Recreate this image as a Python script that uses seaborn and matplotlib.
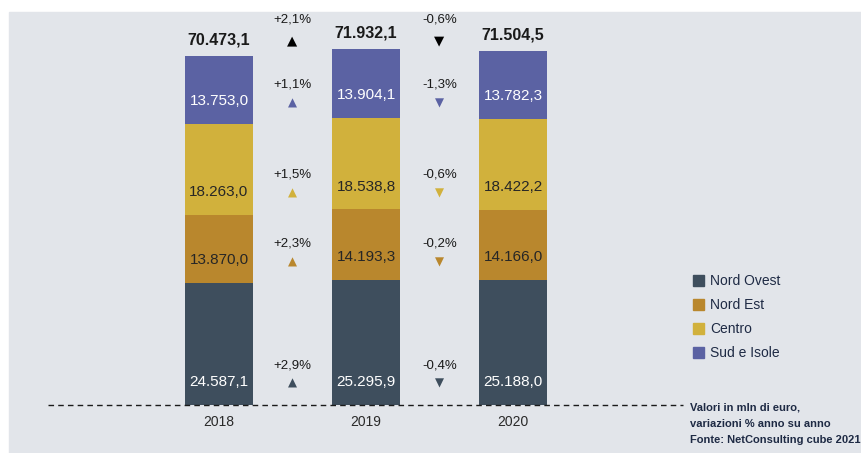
#!/usr/bin/env python3

import numpy as np
import pandas as pd
import matplotlib
matplotlib.use("Agg")
import matplotlib.pyplot as plt
from matplotlib.patches import Rectangle
import seaborn as sns

# ======================================================
# DATA
# ======================================================
YEARS = ["2018", "2019", "2020"]
REGIONS = ["Nord Ovest", "Nord Est", "Centro", "Sud e Isole"]

NORD_OVEST = [24587.1, 25295.9, 25188.0]
NORD_EST = [13870.0, 14193.3, 14166.0]
CENTRO = [18263.0, 18538.8, 18422.2]
SUD_ISOLE = [13753.0, 13904.1, 13782.3]
TOTALS = [70473.1, 71932.1, 71504.5]

# yoy changes between consecutive years
CHG_TOTAL = ["+2,1%", "-0,6%"]
CHG_NORD_OVEST = ["+2,9%", "-0,4%"]
CHG_NORD_EST = ["+2,3%", "-0,2%"]
CHG_CENTRO = ["+1,5%", "-0,6%"]
CHG_SUD_ISOLE = ["+1,1%", "-1,3%"]

COLORS = {
    "Nord Ovest": "#3e4e5d",
    "Nord Est": "#b9872d",
    "Centro": "#d1b13c",
    "Sud e Isole": "#5b62a3",
}
LABEL_COLORS = {
    "Nord Ovest": "white",
    "Nord Est": "#262626",
    "Centro": "#262626",
    "Sud e Isole": "white",
}
BG = "#e2e5ea"
FONT = ["Liberation Sans Narrow", "Liberation Sans", "DejaVu Sans"]
TRI = ["DejaVu Sans"]


def fmt_it(v):
    s = f"{v:,.1f}"
    return s.replace(",", "X").replace(".", ",").replace("X", ".")


def main():
    plt.rcParams["font.family"] = FONT

    values = {
        "Nord Ovest": NORD_OVEST,
        "Nord Est": NORD_EST,
        "Centro": CENTRO,
        "Sud e Isole": SUD_ISOLE,
    }
    changes = {
        "Nord Ovest": CHG_NORD_OVEST,
        "Nord Est": CHG_NORD_EST,
        "Centro": CHG_CENTRO,
        "Sud e Isole": CHG_SUD_ISOLE,
    }

    rows = []
    for r in REGIONS:
        for y, v in zip(YEARS, values[r]):
            rows.append({"Year": y, "Region": r, "Value": v})
    df = pd.DataFrame(rows)
    df["Region"] = pd.Categorical(df["Region"], categories=REGIONS, ordered=True)
    df = df.sort_values(["Year", "Region"])
    df["Top"] = df.groupby("Year")["Value"].cumsum()
    df["Bottom"] = df["Top"] - df["Value"]

    fig = plt.figure(figsize=(8.62, 4.53), dpi=100)
    fig.patch.set_facecolor("white")
    fig.patches.append(Rectangle((9 / 862, 0), 1, (453 - 12) / 453,
                                 transform=fig.transFigure, color=BG, zorder=-10))

    ax = fig.add_axes([48 / 862, 48 / 453, (683 - 48) / 862, 393 / 453])
    ax.set_facecolor("none")

    # ---- stacked bars: draw cumulative heights, top layer first ----
    for r in REGIONS[::-1]:
        sub = df[df["Region"] == r]
        sns.barplot(x=sub["Year"], y=sub["Top"], color=COLORS[r], saturation=1,
                    width=0.463, linewidth=0, errorbar=None, ax=ax, order=YEARS)

    ax.set_xlim(-1.163, 3.156)
    ax.set_ylim(0, 79360)
    ax.set_xlabel("")
    ax.set_ylabel("")
    ax.set_yticks([])
    ax.set_xticks(range(3))
    ax.set_xticklabels(YEARS, fontsize=10, color="#2a2a2a")
    ax.tick_params(axis="x", length=0, pad=7)
    for s in ax.spines.values():
        s.set_visible(False)
    ax.axhline(0, color="#1a1a1a", lw=1.0, ls=(0, (4, 3)), zorder=5, clip_on=False)

    # ---- segment labels ----
    for _, row in df.iterrows():
        xi = YEARS.index(row["Year"])
        ax.annotate(fmt_it(row["Value"]), xy=(xi, row["Bottom"]),
                    xytext=(0, 16.5), textcoords="offset points",
                    ha="center", va="center", fontsize=11,
                    color=LABEL_COLORS[row["Region"]])

    # ---- totals ----
    for xi, t in enumerate(TOTALS):
        ax.annotate(fmt_it(t), xy=(xi, t), xytext=(0, 11.5),
                    textcoords="offset points", ha="center", va="center",
                    fontsize=11.5, fontweight="bold", color="#1a1a1a")

    # ---- yoy changes ----
    base18 = df[df["Year"] == "2018"].set_index("Region")["Bottom"]
    for gi in range(2):
        gx = gi + 0.5
        for r in REGIONS:
            lbl = changes[r][gi]
            tri = "▲" if lbl.startswith("+") else "▼"
            yb = base18[r]
            ax.annotate(tri, xy=(gx, yb), xytext=(0, 15.5), textcoords="offset points",
                        ha="center", va="center", fontsize=8.5, color=COLORS[r],
                        family=TRI)
            ax.annotate(lbl, xy=(gx, yb), xytext=(0, 28.5), textcoords="offset points",
                        ha="center", va="center", fontsize=9.5, color="#1a1a1a")
        lbl = CHG_TOTAL[gi]
        tri = "▲" if lbl.startswith("+") else "▼"
        ax.annotate(tri, xy=(gx, TOTALS[0]), xytext=(0, 11), textcoords="offset points",
                    ha="center", va="center", fontsize=9.5, color="black", family=TRI)
        ax.annotate(lbl, xy=(gx, TOTALS[0]), xytext=(0, 26), textcoords="offset points",
                    ha="center", va="center", fontsize=9.5, color="#1a1a1a")

    # ---- legend ----
    handles = [Rectangle((0, 0), 1, 1, color=COLORS[r]) for r in REGIONS]
    fig.legend(handles, REGIONS, loc="upper left",
               bbox_to_anchor=(682 / 862, 1 - 263 / 453), borderpad=0.3,
               frameon=False, fontsize=10, handlelength=0.8, handleheight=0.8,
               handletextpad=0.4, labelspacing=0.72, labelcolor="#1e2a44")

    # ---- note ----
    fig.text(690 / 862, 1 - 403 / 453,
             "Valori in mln di euro,\nvariazioni % anno su anno\nFonte: NetConsulting cube 2021",
             ha="left", va="top", fontsize=8, fontweight="bold", color="#1e2a44",
             linespacing=1.75)

    fig.savefig("out.png", dpi=100, facecolor=fig.get_facecolor())
    plt.close(fig)


if __name__ == "__main__":
    main()
